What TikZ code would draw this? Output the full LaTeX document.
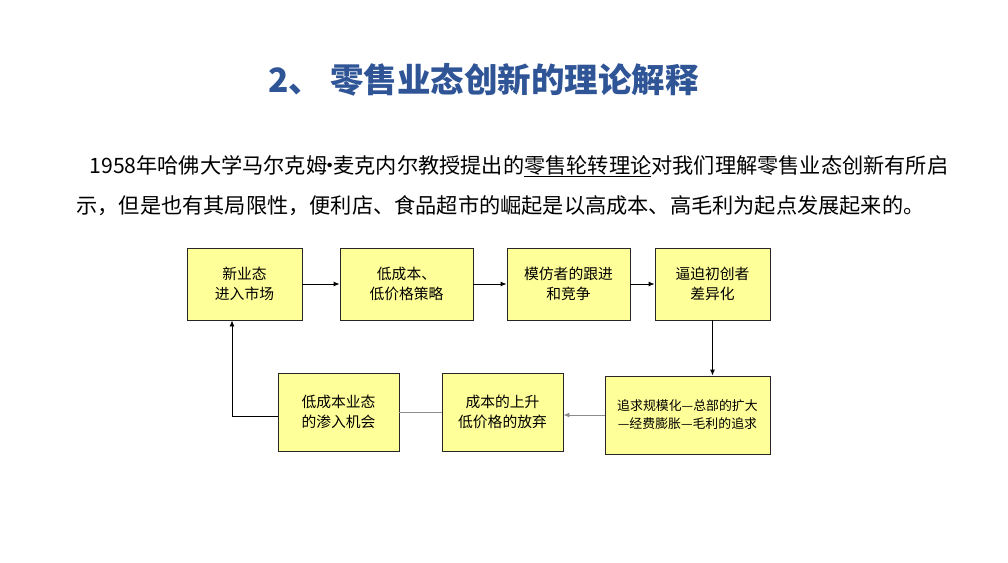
\documentclass[tikz,border=0pt]{standalone}
\usepackage{fontspec}
\usepackage{tikz}
\usepackage{xcolor}
\usetikzlibrary{arrows.meta,positioning}
\newfontfamily\cjk{Noto Sans CJK SC}
\definecolor{titleblue}{RGB}{47,85,151}
\definecolor{boxyellow}{RGB}{255,255,153}
\definecolor{linegray}{RGB}{140,140,140}

\begin{document}
\begin{tikzpicture}[x=1pt,y=-1pt,
  stage/.style={draw=black!85,fill=boxyellow,line width=0.9pt,align=center,inner sep=0pt,
    font=\cjk\fontsize{14.8}{20}\selectfont},
  flow/.style={line width=0.9pt,-{Latex[length=6pt,width=5pt]}}]
\useasboundingbox (0,0) rectangle (1008,562);
% title and text
\node[anchor=west,text=titleblue,font=\cjk\bfseries\fontsize{33.5}{38}\selectfont] (title) at (265,80) {2、\hspace{8pt}零售业态创新的理论解释};
\node[anchor=west,font=\cjk\fontsize{21.2}{24}\selectfont] (line1) at (86,166) {1958年哈佛大学马尔克姆\makebox[6pt]{·}麦克内尔教授提出的\underline{零售轮转理论}对我们理解零售业态创新有所启};
\node[anchor=west,font=\cjk\fontsize{21.2}{24}\selectfont] (line2) at (73,206) {示，但是也有其局限性，便利店、食品超市的崛起是以高成本、高毛利为起点发展起来的。};
% boxes
\node[stage,minimum width=115pt,minimum height=72pt] (s1) at (244.5,284) {新业态\\进入市场};
\node[stage,minimum width=133pt,minimum height=72pt] (s2) at (406.5,284) {低成本、\\低价格策略};
\node[stage,minimum width=123pt,minimum height=72pt] (s3) at (568.5,284) {模仿者的跟进\\和竞争};
\node[stage,minimum width=115pt,minimum height=72pt] (s4) at (712.5,284) {逼迫初创者\\差异化};
\node[stage,minimum width=165pt,minimum height=78pt,font=\cjk\fontsize{12.9}{18}\selectfont] (s5) at (687.5,415) {追求规模化—总部的扩大\\—经费膨胀—毛利的追求};
\node[stage,minimum width=121pt,minimum height=78pt] (s6) at (502.5,412) {成本的上升\\低价格的放弃};
\node[stage,minimum width=121pt,minimum height=78pt] (s7) at (338.5,412) {低成本业态\\的渗入机会};
\coordinate (corner) at (232,416);
% connectors
\draw[flow] (s1) -- (s2);
\draw[flow] (s2) -- (s3);
\draw[flow] (s3) -- (s4);
\draw[flow] (s4.south) -- (s4.south |- s5.north);
\draw[flow,draw=linegray] (s5.west) -- (s5.west -| s6.east);
\draw[line width=0.9pt,draw=linegray] (s6.west) -- (s7.east);
\draw[flow] (s7.west |- corner) -| (corner |- s1.south);
\end{tikzpicture}
\end{document}
